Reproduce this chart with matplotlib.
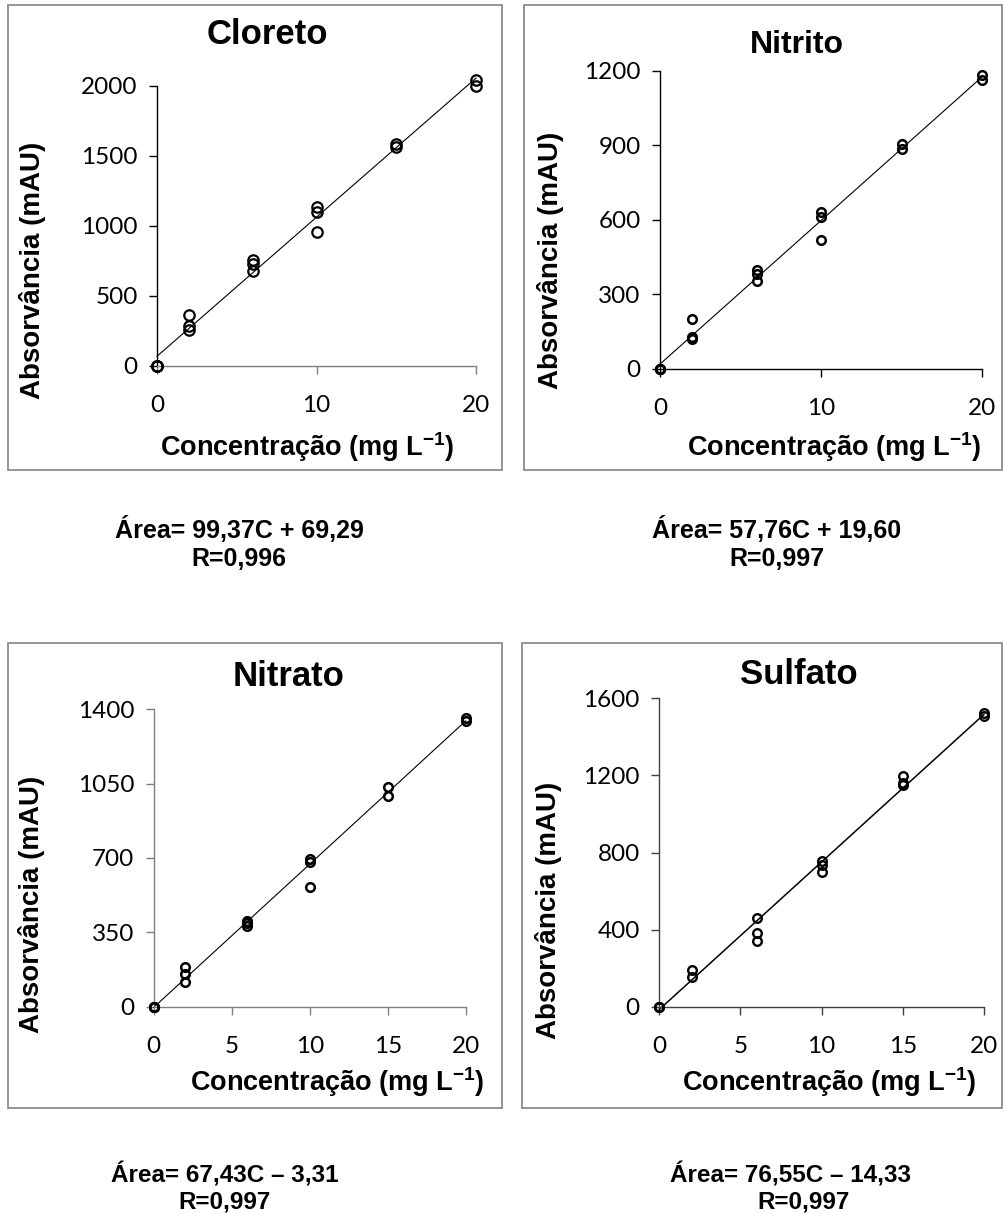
import numpy as np
import matplotlib
matplotlib.use("Agg")
import matplotlib.pyplot as plt
from matplotlib.patches import Rectangle
from matplotlib import font_manager

# ---- data -----------------------------------------------------------------
titles = ["Cloreto", "Nitrito", "Nitrato", "Sulfato"]

cloreto_x = [0, 0, 0, 2, 2, 2, 6, 6, 6, 10, 10, 10, 15, 15, 20, 20]
cloreto_y = [0, 0, 0, 367, 285, 260, 755, 730, 680, 1135, 1100, 960, 1585, 1565, 2045, 2000]

nitrito_x = [0, 0, 0, 2, 2, 2, 6, 6, 6, 10, 10, 10, 15, 15, 20, 20]
nitrito_y = [0, 0, 0, 200, 128, 122, 398, 383, 355, 632, 612, 519, 905, 885, 1182, 1162]

nitrato_x = [0, 0, 0, 2, 2, 2, 6, 6, 6, 10, 10, 10, 15, 15, 20, 20]
nitrato_y = [0, 0, 0, 188, 152, 114, 402, 395, 378, 694, 680, 565, 1036, 990, 1360, 1345]

sulfato_x = [0, 0, 0, 2, 2, 6, 6, 6, 10, 10, 10, 15, 15, 15, 20, 20]
sulfato_y = [0, 0, 0, 188, 155, 458, 380, 343, 755, 735, 700, 1197, 1158, 1148, 1525, 1508]

slopes = [99.37, 57.76, 67.43, 76.55]
intercepts = [69.29, 19.60, -3.31, -14.33]

equations = ["Área= 99,37C + 69,29", "Área= 57,76C + 19,60",
             "Área= 67,43C – 3,31", "Área= 76,55C – 14,33"]
r_texts = ["R=0,996", "R=0,997", "R=0,997", "R=0,997"]

x_ticks = [[0, 10, 20], [0, 10, 20], [0, 5, 10, 15, 20], [0, 5, 10, 15, 20]]
y_ticks = [[0, 500, 1000, 1500, 2000], [0, 300, 600, 900, 1200],
           [0, 350, 700, 1050, 1400], [0, 400, 800, 1200, 1600]]

xs = [cloreto_x, nitrito_x, nitrato_x, sulfato_x]
ys = [cloreto_y, nitrito_y, nitrato_y, sulfato_y]

# ---- fonts ----------------------------------------------------------------
available = {f.name for f in font_manager.fontManager.ttflist}
bold_font = "Liberation Sans"
narrow_font = "Liberation Sans Narrow" if "Liberation Sans Narrow" in available else "Liberation Sans"
tick_font = "Lato" if "Lato" in available else "DejaVu Sans"

plt.rcParams["mathtext.fontset"] = "custom"
plt.rcParams["mathtext.rm"] = bold_font
plt.rcParams["mathtext.bf"] = bold_font + ":bold"

W, H = 1005, 1213
fig = plt.figure(figsize=(W / 100, H / 100), dpi=100)


def fx(px):
    return px / W


def fy(py):
    return 1 - py / H


# panel layout in pixels
axes_px = [(157, 476, 86, 366), (660, 982, 70.7, 369),
           (153.7, 465.7, 709.3, 1006.7), (659.3, 984, 698.3, 1006.7)]
boxes_px = [(8, 502, 5, 470), (524, 1002, 5, 470),
            (8, 502, 643, 1108), (522, 1002, 643, 1108)]
title_pos = [(267, 35), (797, 45), (289, 677), (799, 675)]
title_size = [25, 23, 25, 25]
ylabel_pos = [(33, 270), (550, 260), (32, 904), (548, 910)]
xlabel_pos = [(307, 447), (834, 447), (337, 1082), (829, 1082)]
eq_pos = [(239, 530), (777, 530), (225, 1175), (791, 1175)]
r_pos = [(239, 559), (777, 559), (225, 1202), (804, 1202)]
marker_size = [7.5, 6.2, 6.2, 6.2]
marker_edge = [1.6, 1.8, 1.8, 1.7]
line_width = [0.8, 0.8, 0.8, 1.1]
spine_colors = [("#7f7f7f", "black"), ("black", "black"),
                ("#7f7f7f", "#7f7f7f"), ("#404040", "#404040")]

for i in range(4):
    # panel frame
    bx0, bx1, by0, by1 = boxes_px[i]
    fig.patches.append(Rectangle((fx(bx0), fy(by1)), fx(bx1 - bx0), (by1 - by0) / H,
                                 transform=fig.transFigure, fill=False,
                                 edgecolor="#8c8c8c", linewidth=1.3))

    x0, x1, yt, yb = axes_px[i]
    ax = fig.add_axes([fx(x0), fy(yb), fx(x1 - x0), (yb - yt) / H])
    ax.set_xlim(0, 20)
    ax.set_ylim(y_ticks[i][0], y_ticks[i][-1])
    ax.patch.set_visible(False)

    for s in ("top", "right"):
        ax.spines[s].set_visible(False)
    ax.spines["bottom"].set_color(spine_colors[i][0])
    ax.spines["left"].set_color(spine_colors[i][1])
    ax.spines["bottom"].set_linewidth(1.0)
    ax.spines["left"].set_linewidth(1.0)

    ax.set_xticks(x_ticks[i])
    ax.set_yticks(y_ticks[i])
    ax.tick_params(axis="x", direction="out", length=6, width=1.0,
                   color=spine_colors[i][0], pad=15, labelsize=17.5)
    ax.tick_params(axis="y", direction="out", length=6, width=1.0,
                   color=spine_colors[i][1], pad=8, labelsize=17.5)
    for lab in ax.get_xticklabels() + ax.get_yticklabels():
        lab.set_fontfamily(tick_font)

    # fitted calibration line
    xl = np.array([0, 20])
    ax.plot(xl, slopes[i] * xl + intercepts[i], color="black",
            linewidth=line_width[i], clip_on=False, zorder=2)

    # measured points
    ax.plot(xs[i], ys[i], linestyle="none", marker="o", markersize=marker_size[i],
            markerfacecolor="none", markeredgecolor="black",
            markeredgewidth=marker_edge[i], clip_on=False, zorder=3)

    # titles and axis labels
    tx, ty = title_pos[i]
    fig.text(fx(tx), fy(ty), titles[i], ha="center", va="center",
             fontsize=title_size[i], fontweight="bold", family=bold_font)
    lx, ly = ylabel_pos[i]
    fig.text(fx(lx), fy(ly), "Absorvância (mAU)", ha="center", va="center",
             rotation=90, fontsize=20, fontweight="bold", family=bold_font)
    cx, cy = xlabel_pos[i]
    fig.text(fx(cx), fy(cy), r"Concentração (mg L$^{\mathbf{-1}}$)", ha="center",
             va="center", fontsize=19.5, fontweight="bold", family=bold_font)

    # regression equation below each panel
    eq_font = bold_font if i < 2 else narrow_font
    eq_size = 18 if i < 2 else 17.5
    ex, ey = eq_pos[i]
    fig.text(fx(ex), fy(ey), equations[i], ha="center", va="center",
             fontsize=eq_size, fontweight="bold", family=eq_font)
    rx, ry = r_pos[i]
    fig.text(fx(rx), fy(ry), r_texts[i], ha="center", va="center",
             fontsize=eq_size, fontweight="bold", family=eq_font)

fig.savefig("out.png", dpi=100)
